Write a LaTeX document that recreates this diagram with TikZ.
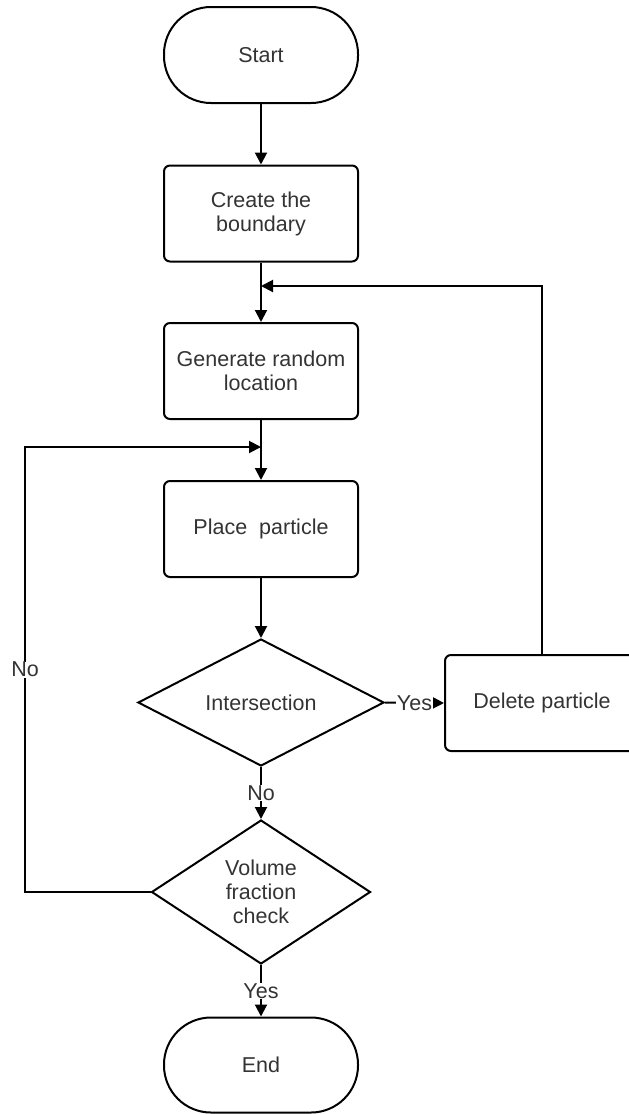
\documentclass[tikz,border=0pt]{standalone}
\usepackage{fontspec}
\setmainfont{Liberation Sans}
\usetikzlibrary{shapes.geometric,arrows.meta}
\definecolor{txt}{HTML}{333333}
\tikzset{
  base/.style={draw=black, line width=2pt, text=txt, font=\fontsize{21.5}{24}\selectfont, align=center, inner sep=0pt},
  procbox/.style={base, rectangle, rounded corners=6pt, minimum width=194pt, minimum height=96pt},
  termbox/.style={base, rectangle, rounded corners=47pt, minimum width=194pt, minimum height=96pt},
  decbox/.style={base, diamond},
  conn/.style={line width=2pt, -{Triangle[length=12pt,width=12pt]}},
  lbl/.style={fill=white, text=txt, font=\fontsize{21.5}{24}\selectfont, inner sep=0.5pt}
}
\begin{document}
\begin{tikzpicture}[x=1pt,y=-1pt]
\useasboundingbox (0,0) rectangle (629,1114);
\clip (0,0) rectangle (629,1114);
\node[termbox] (start) at (261,55) {Start};
\node[procbox] (create) at (261,213.5) {Create the\\boundary};
\node[procbox] (gen) at (261,371) {Generate random\\location};
\node[procbox] (place) at (261,529) {Place\ \ particle};
\node[decbox, minimum width=246pt, minimum height=127pt] (inter) at (261,702.5) {Intersection};
\node[procbox] (del) at (542,703) {Delete particle};
\node[decbox, minimum width=219pt, minimum height=144pt] (vol) at (261,892) {Volume\\fraction\\check};
\node[termbox, minimum height=95pt] (end) at (261,1065) {End};
\coordinate (j1) at (261,286);
\coordinate (j2) at (261,447);
\coordinate (c1) at (25,892);
\coordinate (c2) at (25,447);
\draw[conn] (start) -- (create);
\draw[conn] (create) -- (gen);
\draw[conn] (del.north) |- (j1);
\draw[conn] (gen) -- (place);
\draw[conn] (vol.west) -- (c1) -- node[lbl, pos=0.5] {No} (c2) -- (j2);
\draw[conn] (place) -- (inter);
\draw[conn] (inter.east) -- node[lbl] {Yes} (del.west);
\draw[conn] (inter.south) -- node[lbl] {No} (vol.north);
\draw[conn] (vol.south) -- node[lbl] {Yes} (end.north);
\end{tikzpicture}
\end{document}
